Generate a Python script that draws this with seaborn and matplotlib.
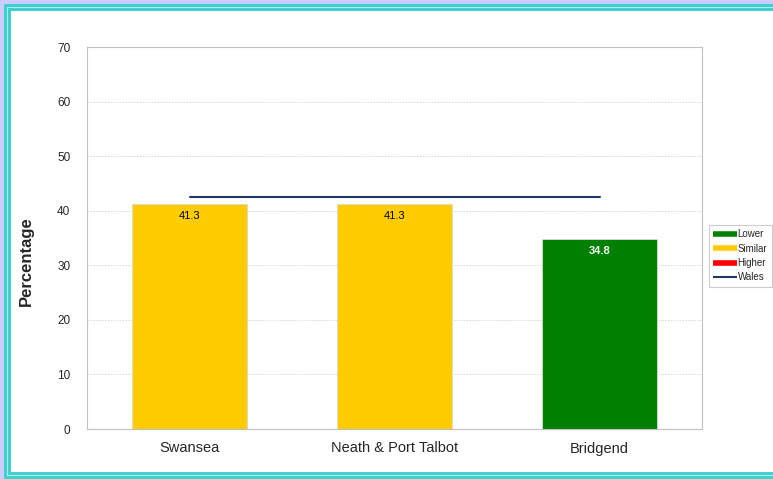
import numpy as np
import pandas as pd
import matplotlib.pyplot as plt
import seaborn as sns
from matplotlib.patches import Rectangle
from matplotlib.lines import Line2D

areas = ["Swansea", "Neath & Port Talbot", "Bridgend"]
values = [41.3, 41.3, 34.8]
status = ["Similar", "Similar", "Lower"]
wales = 42.5

colours = {"Lower": "#008000", "Similar": "#ffcc00", "Higher": "#ff0000"}

df = pd.DataFrame({"area": areas, "value": values, "status": status})

sns.set_style("white")
plt.rcParams['font.family'] = ['Liberation Sans', 'DejaVu Sans']

fig = plt.figure(figsize=(7.73, 4.79), dpi=100)
W, H = 773, 479

# frame decoration
fig.patches.append(Rectangle((0, 0), 1, 1, transform=fig.transFigure, facecolor="#ccccff", edgecolor="none", zorder=-3))
fig.patches.append(Rectangle((4 / W, 0), 1, 1 - 4 / H, transform=fig.transFigure, facecolor="#40d0d0", edgecolor="none", zorder=-2))
fig.patches.append(Rectangle((7 / W, 3 / H), 1, 1 - 10 / H, transform=fig.transFigure, facecolor="#b0eeee", edgecolor="none", zorder=-2))
fig.patches.append(Rectangle((8 / W, 4 / H), 1, 1 - 12 / H, transform=fig.transFigure, facecolor="#40d0d0", edgecolor="none", zorder=-2))
fig.patches.append(Rectangle((11 / W, 7 / H), 1, 1 - 18 / H, transform=fig.transFigure, facecolor="white", edgecolor="none", zorder=-1))

ax = fig.add_axes([87 / W, 1 - 429 / H, (702 - 87) / W, (429 - 47) / H])
ax.set_facecolor("white")

sns.barplot(data=df, x="area", y="value", hue="status", palette=colours,
            width=0.56, dodge=False, legend=False, ax=ax, saturation=1,
            edgecolor="#d8d8d8", linewidth=0.6)

ax.plot([0, 2], [wales, wales], color="#1f3864", lw=1.5, zorder=3)

for i, (v, s) in enumerate(zip(values, status)):
    if s == "Lower":
        ax.text(i, v - 1.3, f"{v}", ha="center", va="top", color="white", fontsize=8, fontweight="bold")
    else:
        ax.text(i, v - 1.3, f"{v}", ha="center", va="top", color="black", fontsize=8)

ax.set_ylim(0, 70)
ax.set_xlim(-0.5, 2.5)
ax.set_yticks(np.arange(0, 71, 10))
ax.yaxis.grid(True, color="#cfd9e4", linestyle=(0, (1.5, 1.5)), lw=0.7)
ax.set_axisbelow(True)
for sp in ax.spines.values():
    sp.set_color("#c0c0c0")
ax.tick_params(axis="y", labelsize=8.5, length=0, pad=12)
ax.tick_params(axis="x", labelsize=10.5, length=0, pad=9)
ax.set_xlabel("")
ax.set_ylabel("Percentage", fontsize=12, fontweight="bold")
ax.yaxis.set_label_coords(-0.086, 0.44)

handles = [Line2D([], [], color=colours["Lower"], lw=4, solid_capstyle="butt"),
           Line2D([], [], color=colours["Similar"], lw=4, solid_capstyle="butt"),
           Line2D([], [], color=colours["Higher"], lw=4, solid_capstyle="butt"),
           Line2D([], [], color="#1f3864", lw=1.5, solid_capstyle="butt")]
leg = fig.legend(handles, ["Lower", "Similar", "Higher", "Wales"], loc="upper left",
                 bbox_to_anchor=(709 / W, 1 - 225 / H), fontsize=7, frameon=True,
                 fancybox=False, handlelength=2.4, handletextpad=0.1, borderpad=0.45,
                 labelspacing=0.45, borderaxespad=0)
leg.get_frame().set_edgecolor("#c0c0c0")
leg.get_frame().set_linewidth(0.8)

fig.savefig("out.png", dpi=100)
